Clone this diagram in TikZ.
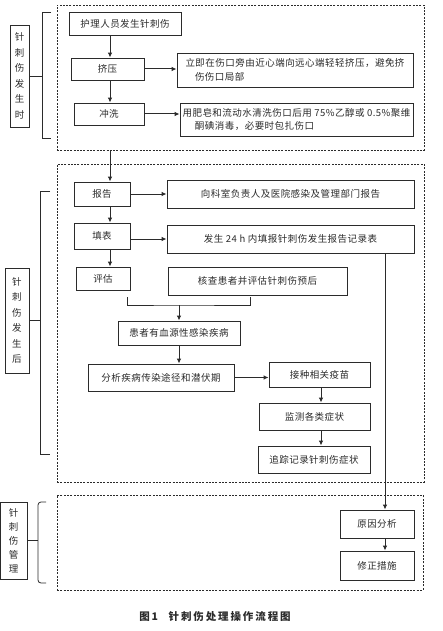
\documentclass[tikz,border=0pt]{standalone}
\usepackage{fontspec}
\usepackage{xcolor}
\usepackage{tikz}
\usetikzlibrary{arrows.meta,calc}
\newfontfamily\cjk[LetterSpace=5]{Noto Sans CJK SC}
\newfontfamily\cjkcap[LetterSpace=18]{Noto Sans CJK SC}
\definecolor{ink}{HTML}{2B2B2B}

\begin{document}
\begin{tikzpicture}[>={Latex[length=5pt,width=4.5pt]}, x=1pt, y=-1pt,
  box/.style={draw=ink, line width=0.8pt, inner sep=0pt, align=center, text=ink,
    font=\cjk\fontsize{9.5}{13.5}\selectfont},
  note/.style={box, align=left},
  zone/.style={draw=ink, line width=0.7pt, dash pattern=on 2pt off 1.3pt, inner sep=0pt},
  tag/.style={box, font=\cjk\fontsize{9.5}{15.5}\selectfont},
  link/.style={->, ink, line width=1pt},
  brace/.style={ink, line width=0.8pt}]
  \useasboundingbox[fill=white] (0,0) rectangle (443,631);

  % dashed frames
  \node[zone, minimum width=367, minimum height=145] (zone1) at (240.5,77.5) {};
  \node[zone, minimum width=367, minimum height=318] (zone2) at (240.5,323) {};
  \node[zone, minimum width=366, minimum height=95] (zone3) at (240,542.5) {};

  % phase labels
  \node[tag, minimum width=19, minimum height=102] (tag1) at (19.5,76) {针\\刺\\伤\\发\\生\\时};
  \node[tag, minimum width=24, minimum height=105] (tag2) at (17,320.5) {针\\刺\\伤\\发\\生\\后};
  \node[tag, minimum width=26.5, minimum height=77, font=\cjk\fontsize{9.5}{14}\selectfont]
    (tag3) at (13.75,540.5) {针\\刺\\伤\\管\\理};

  % first phase
  \node[box, minimum width=112, minimum height=23] (hurt) at (125,23.5) {护理人员发生针刺伤};
  \node[box, minimum width=73, minimum height=22] (squeeze) at (107.5,69) {挤压};
  \node[note, minimum width=236, minimum height=34] (squeezeTxt) at (295,70)
    {立即在伤口旁由近心端向远心端轻轻挤压，避免挤\\\hspace*{1em}伤伤口局部};
  \node[box, minimum width=70, minimum height=22] (wash) at (109,114) {冲洗};
  \node[note, minimum width=233, minimum height=33] (washTxt) at (296.5,119.5)
    {用肥皂和流动水清洗伤口后用 75\%乙醇或 0.5\%聚维\\\hspace*{1.3em}酮碘消毒，必要时包扎伤口};

  % second phase
  \node[box, minimum width=56, minimum height=24] (report) at (102,194) {报告};
  \node[box, minimum width=247, minimum height=28] (reportTxt) at (290.5,194) {向科室负责人及医院感染及管理部门报告};
  \node[box, minimum width=56, minimum height=26] (form) at (102,236) {填表};
  \node[box, minimum width=247, minimum height=28] (formTxt) at (290.5,239) {发生 24 h 内填报针刺伤发生报告记录表};
  \node[box, minimum width=54, minimum height=23] (assess) at (103,278.5) {评估};
  \node[box, minimum width=179, minimum height=28] (check) at (257.5,281) {核查患者并评估针刺伤预后};
  \node[box, minimum width=122, minimum height=24] (patient) at (179,333) {患者有血源性感染疾病};
  \node[box, minimum width=146, minimum height=27] (analyze) at (161,377.5) {分析疾病传染途径和潜伏期};
  \node[box, minimum width=101, minimum height=25] (vaccine) at (319.5,374.5) {接种相关疫苗};
  \node[box, minimum width=111, minimum height=27] (monitor) at (314.5,416.5) {监测各类症状};
  \node[box, minimum width=112, minimum height=27] (track) at (314,459.5) {追踪记录针刺伤症状};

  % management
  \node[box, minimum width=74, minimum height=28] (cause) at (377,524) {原因分析};
  \node[box, minimum width=74, minimum height=29] (fix) at (377,565.5) {修正措施};

  \node[text=ink, font=\cjkcap\bfseries\fontsize{10.5}{12}\selectfont] (caption) at (215,617)
    {图1\quad 针刺伤处理操作流程图};

  % connectors
  \coordinate (spine) at (110,0);
  \coordinate (drop) at (385,0);
  \draw[link] (hurt.south -| spine) -- (squeeze.north -| spine);
  \draw[link] (squeeze.south -| spine) -- (wash.north -| spine);
  \draw[link] (squeeze.east) -- (squeeze.east -| squeezeTxt.west);
  \draw[link] (wash.east) -- (wash.east -| washTxt.west);
  \draw[link] (zone1.south -| spine) -- (report.north -| spine);
  \draw[link] (report.south -| spine) -- (form.north -| spine);
  \draw[link] (form.south -| spine) -- (assess.north -| spine);
  \draw[link] (report.east) -- (report.east -| reportTxt.west);
  \draw[link] (form.east |- formTxt) -- (formTxt.west);
  \coordinate (jl) at (127,297);
  \coordinate (jr) at (250,297);
  \coordinate (join) at (179,305);
  \draw[brace] (jl) |- (join) -| (jr);
  \draw[link] (join) -- (patient.north);
  \draw[link] (patient.south) -- (patient.south |- analyze.north);
  \draw[link] (analyze.east) -- (analyze.east -| vaccine.west);
  \draw[link] (vaccine.south -| 321,0) -- (monitor.north -| 321,0);
  \draw[link] (monitor.south -| 321,0) -- (track.north -| 321,0);
  \draw[link] (formTxt.south -| drop) -- (cause.north -| drop);
  \draw[link] (cause.south -| drop) -- (fix.north -| drop);

  % brackets
  \draw[brace] (51,12) -- (42,12) -- (42,138) -- (51,138);
  \draw[brace] (tag1.east) -- ++(13,0);
  \draw[brace] (50,191) -- (40,191) -- (40,454) -- (50,454);
  \draw[brace] (tag2.east) -- ++(11,0);
  \draw[brace, rounded corners=3pt] (46,502) -- (38,502) -- (38,583) -- (46,583);
  \draw[brace] (tag3.east) -- ++(11,0);
\end{tikzpicture}
\end{document}
